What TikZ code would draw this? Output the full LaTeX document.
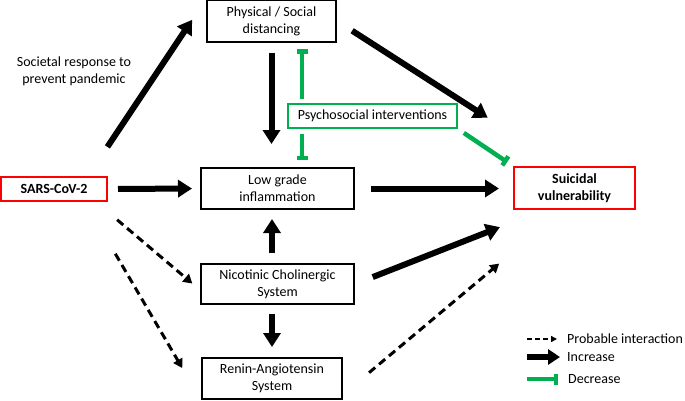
\documentclass[tikz,border=0pt]{standalone}
\usepackage{fontspec}
\setmainfont{Carlito}
\usetikzlibrary{arrows.meta}
\usetikzlibrary{positioning}
\definecolor{sgreen}{RGB}{0,176,80}
\definecolor{sred}{RGB}{255,0,0}
\tikzset{>=latex}
\tikzstyle{txt} = [font=\fontsize{14}{17}\selectfont]
\tikzstyle{box} = [draw, line width=2pt, align=center, inner sep=0, txt]
\tikzstyle{redbox} = [box, draw=sred, font=\bfseries\fontsize{14}{17}\selectfont]
\tikzstyle{greenbox} = [box, draw=sgreen]
\tikzstyle{inc} = [line width=6pt, -{Triangle[length=14pt,width=17pt]}]
\tikzstyle{prob} = [line width=3pt, dash pattern=on 8pt off 5pt, -{Triangle[length=9pt,width=10pt]}]
\tikzstyle{dec} = [line width=4.5pt, draw=sgreen, -{Bar[width=11pt]}]

\begin{document}
\begin{tikzpicture}[x=1pt, y=-1pt]
\useasboundingbox (0,0) rectangle (685,400);
% boxes
\node [box, minimum width=129pt, minimum height=42pt] (phys) at (271.5,21) {Physical / Social\\distancing};
\node [greenbox, minimum width=169pt, minimum height=24pt] (psy) at (372.5,116) {Psychosocial interventions};
\node [box, minimum width=153pt, minimum height=41pt] (low) at (277.5,188.5) {Low grade\\inflammation};
\node [redbox, minimum width=106pt, minimum height=24pt] (sars) at (54,189) {SARS-CoV-2};
\node [redbox, minimum width=121pt, minimum height=42pt] (sui) at (574.5,188) {Suicidal\\vulnerability};
\node [box, minimum width=153pt, minimum height=40pt] (nic) at (277.5,284) {Nicotinic Cholinergic\\System};
\node [box, minimum width=140pt, minimum height=41pt] (ren) at (272,378.5) {Renin-Angiotensin\\System};
\node [txt, align=center] (soc) at (74,71) {Societal response to\\prevent pandemic};

% increase
\draw [inc, shorten <=35pt, shorten >=25pt] ([xshift=34pt]sars.north) -- (phys.north west);
\draw [inc, shorten <=10pt, shorten >=23pt] (phys.south) -- (phys.south |- low.north);
\draw [inc, shorten <=18pt, shorten >=30pt] (phys.east) -- ([yshift=32pt]sui.north west);
\draw [inc, shorten <=10pt, shorten >=8pt] (sars.east) -- (low.west);
\draw [inc, shorten <=16pt, shorten >=14pt] (low.east) -- (low.east -| sui.west);
\draw [inc, shorten <=10pt, shorten >=9pt] (ren.north |- nic.north) -- (ren.north |- low.south);
\draw [inc, shorten <=9pt, shorten >=10pt] (ren.north |- nic.south) -- (ren.north);
\draw [inc, shorten <=19pt, shorten >=14pt] (nic.east) -- ([yshift=-12pt]sui.south west);

% probable
\draw [prob, shorten <=12pt, shorten >=10pt] ([yshift=-10pt]sars.south east) -- ([yshift=-6pt]nic.west);
\draw [prob, shorten <=60pt, shorten >=37pt] ([xshift=31pt]sars.south) -- (ren.south west);
\draw [prob, shorten <=34pt, shorten >=18pt] ([yshift=-16pt]ren.east) -- ([yshift=-42pt]sui.south west);

% decrease
\coordinate (psyup) at ([xshift=15pt]psy.north west);
\coordinate (psydn) at ([xshift=15pt]psy.south west);
\draw [dec, shorten <=4pt, shorten >=6pt] (psyup) -- (psyup |- phys.south);
\draw [dec, shorten <=5pt, shorten >=7pt] (psydn) -- (psydn |- low.north);
\draw [dec, shorten <=7pt, shorten >=7pt] (psy.south east) -- (sui.north west);

% legend
\node [txt, anchor=west, inner sep=0] (lprob) at (567,339) {Probable interaction};
\node [txt, anchor=west, inner sep=0] (linc) at (567,357) {Increase};
\node [txt, anchor=west, inner sep=0] (ldec) at (568,379) {Decrease};
\coordinate (lprobs) at (527,339);
\coordinate (lincs) at (527,357);
\coordinate (ldecs) at (527,379);
\draw [line width=2pt, dash pattern=on 5pt off 3pt, -{Triangle[length=6pt,width=6pt]}, shorten >=10pt] (lprobs) -- (lprob.west);
\draw [line width=6pt, -{Triangle[length=12pt,width=15pt]}, shorten >=7pt] (lincs) -- (linc.west);
\draw [dec, shorten >=10pt] (ldecs) -- (ldec.west);
\end{tikzpicture}
\end{document}
